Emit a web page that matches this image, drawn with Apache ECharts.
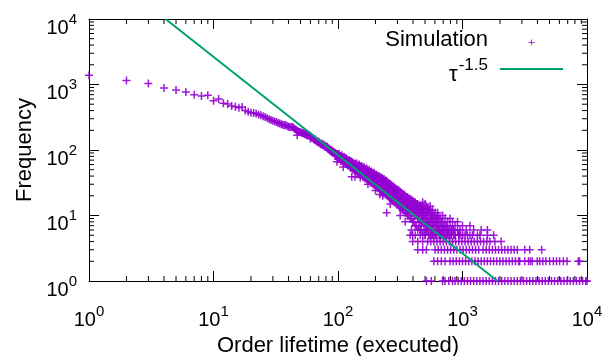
<!DOCTYPE html>
<html><head><meta charset="utf-8">
<script src="https://cdn.jsdelivr.net/npm/echarts@6/dist/echarts.min.js"></script>
<style>html,body{margin:0;padding:0;background:#fff}#c{width:614px;height:356px}</style>
</head><body><div id="c"></div>
<script>
// ---- tick values ----
const xTickExponents = [0, 1, 2, 3, 4];
const yTickExponents = [0, 1, 2, 3, 4];
const minorTickValues = [2,3,4,5,6,7,8,9,20,30,40,50,60,70,80,90,200,300,400,500,600,700,800,900,2000,3000,4000,5000,6000,7000,8000,9000];

// ---- Simulation: head of the distribution (lifetime, frequency) ----
const simHead = [
[1,1390],[2,1150],[3,1040],[4,885],[5,824],[6,768],[7,699],[8,667],[9,684],[10,566],
[11,601],[12,516],[13,504],[14,470],[15,458],[16,440],[17,452],[18,400],[19,385],[20,372],
[21,368],[22,360],[23,345],[24,338],[25,328],[26,320],[27,306],[28,296],[29,288],[30,280],
[31,272],[32,268],[33,258],[34,254],[35,248],[36,244],[37,238],[38,240],[39,232],[40,226],
[41,224],[42,222],[43,226],[44,218],[45,210],[46,204],[47,196],[48,192],[49,188],[50,186],
[51,184],[52,182],[53,178],[54,176],[55,172],[56,170],[57,171],[58,166],[59,168],[60,162],
[61,158],[62,152],[63,151],[64,146],[65,142],[66,145],[67,137],[68,134],[69,136],[70,130],
[71,131],[72,125],[73,122],[74,126],[75,118],[76,120],[77,121],[78,112],[79,115],[80,113],
[81,110],[82,112],[83,104],[84,106],[85,100],[86,103],[87,96],[88,99],[89,93],[90,97],
[91,90],[92,94],[93,92],[94,87],[95,90],[96,85],[97,88],[98,84],[99,81],[100,85],
[47,168],[60,150],[98,66]
];
// ---- Simulation: scattered body (lifetime, frequency) ----
const simBody = [
[100,72],[100,79],[100,86],[105,68],[105,75],[105,81],[110,65],[110,71],[110,77],[110,55],
[115,61],[115,67],[115,74],[120,58],[120,63],[120,70],[126,53],[126,58],[126,62],[126,68],
[129,39],[132,50],[132,55],[132,59],[132,64],[137,39],[138,48],[138,52],[138,57],[138,61],
[145,45],[145,49],[145,54],[145,58],[151,42],[151,46],[151,51],[151,56],[151,38],
[158,39],[158,43],[158,48],[158,53],[166,37],[166,41],[166,46],[166,51],
[174,34],[174,39],[174,43],[174,48],[174,30],[182,32],[182,37],[182,41],[182,46],
[191,30],[191,34],[191,39],[191,44],[200,28],[200,33],[200,37],[200,42],[200,24],
[209,26],[209,30],[209,35],[209,40],[217,21],[219,24],[219,29],[219,33],[219,38],
[229,23],[229,27],[229,31],[229,36],[229,20],[240,21],[240,25],[240,29],[240,34],[246,11],
[251,20],[251,24],[251,27],[251,32],[263,18],[263,22],[263,26],[263,30],[263,15],
[275,17],[275,20],[275,24],[275,28],[288,16],[288,19],[288,22],[288,26],
[302,15],[302,18],[302,21],[302,25],[316,13],[316,16],[316,19],[316,23],[316,10],
[331,12],[331,15],[331,18],[331,21],[347,11],[347,14],[347,17],[347,20],[347,8],
[363,10],[363,13],[363,16],[363,19],[380,9],[380,12],[380,15],[380,18],
[398,8],[398,11],[398,14],[398,17],[398,5],[417,7],[417,10],[417,13],[417,16],
[437,6],[437,9],[437,12],[437,15],[457,6],[457,8],[457,11],[457,14],
[479,5],[479,8],[479,10],[479,13],[479,16],[501,5],[501,7],[501,9],[501,12],[501,15],
[525,6],[525,8],[525,11],[525,13],[550,5],[550,7],[550,9],[550,12],[550,14],
[575,6],[575,8],[575,10],[575,12],[603,5],[603,7],[603,9],[603,11],
[631,6],[631,8],[631,10],[631,11],[661,5],[661,7],[661,9],[692,6],[692,8],[692,10],
[724,5],[724,7],[724,9],[759,6],[759,8],[794,5],[794,7],[794,9],[832,6],[832,8],
[871,5],[871,7],[912,6],[912,8],[955,5],[955,6],[1000,5],[1000,7],
[1072,6],[1148,5],[1148,7],[1230,6],[1318,5],[1413,6],[1585,5],[1585,6],[1778,5]
];
const simBody2 = [
[102,74],[102,80],[102,87],[107,70],[107,76],[107,83],[112,66],[112,72],[112,79],
[117,62],[117,68],[117,75],[123,58],[123,64],[123,70],[129,54],[129,60],[129,66],
[135,51],[135,56],[135,62],[141,47],[141,53],[141,58],[141,63],[148,45],[148,50],[148,55],[148,60],
[155,41],[155,46],[155,52],[155,57],[162,38],[162,44],[162,49],[162,55],
[170,36],[170,41],[170,46],[170,52],[178,34],[178,39],[178,44],[178,50],
[186,32],[186,36],[186,42],[186,47],[195,30],[195,34],[195,40],[195,45],
[204,28],[204,32],[204,37],[204,42],[214,26],[214,30],[214,35],[214,40],
[224,24],[224,28],[224,33],[224,38],[234,22],[234,26],[234,31],[234,36],
[245,21],[245,25],[245,29],[245,34],[257,19],[257,23],[257,27],[257,31],
[269,18],[269,21],[269,25],[269,29],[282,16],[282,20],[282,23],[282,27],
[295,15],[295,19],[295,22],[295,25],[309,14],[309,17],[309,20],[309,24],
[324,13],[324,16],[324,19],[324,22],[339,12],[339,15],[339,18],[339,21],
[355,11],[355,14],[355,16],[355,19],[372,10],[372,13],[372,15],[372,18],
[389,9],[389,12],[389,14],[389,17],[389,6],[407,8],[407,11],[407,13],[407,16],
[427,7],[427,10],[427,12],[427,15],[447,7],[447,9],[447,11],[447,13],
[468,6],[468,8],[468,10],[468,12],[468,14],[490,6],[490,8],[490,10],[490,11],[490,13],
[513,6],[513,7],[513,9],[513,11],[513,13],[537,5],[537,7],[537,8],[537,10],[537,12],
[562,5],[562,6],[562,8],[562,9],[562,11],[589,5],[589,7],[589,8],[589,10],
[617,5],[617,6],[617,8],[617,9],[646,5],[646,6],[646,7],[646,9],
[676,5],[676,6],[676,8],[708,5],[708,6],[708,7],[741,5],[741,6],[741,7],
[776,5],[776,6],[813,5],[813,6],[851,5],[851,6],[933,5],[1047,5]
];
// ---- Simulation: lifetimes seen on the low integer-frequency rows ----
const simLevel1X = [513,562,692,724,776,832,871,923,977,1035,1096,1161,1230,1303,1380,1462,1549,1641,1738,1841,1950,2065,2188,2317,2455,2600,2754,2917,3090,3273,3467,3673,3890,4121,4365,4624,4898,5188,5495,5821,6166,6531,6918,7328,7762,8222,8710,9226,9772,10000];
const simLevel2X = [589,631,676,724,794,841,891,944,1000,1059,1122,1189,1259,1334,1413,1496,1585,1679,1778,1884,1995,2113,2239,2371,2512,2661,2818,2884,3162,3388,3508,3631,3981,4169,4416,4677,5012,5370,5689,6026,6457,6918,8511,8710];
const simLevel3X = [437,479,513,603,638,676,716,759,804,851,902,955,1012,1072,1135,1202,1274,1349,1462,1549,1641,1738,1841,1950,2065,2188,2317,2455,2600,2754,3162,3467,4325];
const simLevel4X = [398,437,479,525,556,589,624,661,700,741,785,832,881,933,989,1047,1109,1175,1245,1318,1396,1479,1567,1660,1820,2042];
const simLevel5X = [380,417,457,501,537,575,617,661,708,759,813,871,933,1000,1096,1202,1380];

// ---- Power law tau^-1.5 (end points) ----
const fitLine = [[4.12, 10000], [1910, 1]];

const FONT = '"Liberation Sans", Arial, sans-serif';
const PLUS = 'path://M3.25,0H4.75V3.25H8V4.75H4.75V8H3.25V4.75H0V3.25H3.25Z';
const PLUS_LEGEND = 'path://M0,0M63,14M28.5,6.6H34.5V7.4H28.5ZM31.1,4H31.9V10H31.1Z';
const LINE_LEGEND = 'path://M0,0H63V2H0Z';

const simData = simHead.concat(
  simBody, simBody2,
  simLevel1X.map(x => [x, 1]),
  simLevel2X.map(x => [x, 2]),
  simLevel3X.map(x => [x, 3]),
  simLevel4X.map(x => [x, 4]),
  simLevel5X.map(x => [x, 5])
);

const labelRich = {
  b: { fontSize: 20, fontFamily: FONT, color: '#000', lineHeight: 30, verticalAlign: 'bottom' },
  s: { fontSize: 15, fontFamily: FONT, color: '#000', verticalAlign: 'top', padding: [4, 0, 0, 0] }
};
function expLabel(exps) {
  return function (v) {
    const e = Math.round(Math.log10(v));
    return exps.indexOf(e) >= 0 ? '{b|10}{s|' + e + '}' : '';
  };
}
const tickStyle = { show: true, inside: true, length: 10, lineStyle: { color: '#000', width: 1 } };
const lineStyleAxis = { show: true, onZero: false, lineStyle: { color: '#000', width: 1 } };

const chart = echarts.init(document.getElementById('c'));
chart.setOption({
  animation: false,
  backgroundColor: '#fff',
  grid: { left: 89, right: 27, top: 19, bottom: 75, containLabel: false, outerBoundsMode: 'none' },
  xAxis: [
    { type: 'log', logBase: 10, min: 1, max: 10000, position: 'bottom',
      axisLine: lineStyleAxis, axisTick: tickStyle, splitLine: { show: false },
      axisLabel: { formatter: expLabel(xTickExponents), margin: 19, rich: labelRich },
      name: 'Order lifetime (executed)', nameLocation: 'middle', nameGap: 52,
      nameTextStyle: { fontSize: 22, fontFamily: FONT, color: '#000' } },
    { type: 'log', logBase: 10, min: 1, max: 10000, position: 'top',
      axisLine: lineStyleAxis, axisTick: tickStyle, splitLine: { show: false },
      axisLabel: { show: false } }
  ],
  yAxis: [
    { type: 'log', logBase: 10, min: 1, max: 10000, position: 'left',
      axisLine: lineStyleAxis, axisTick: tickStyle, splitLine: { show: false },
      axisLabel: { formatter: expLabel(yTickExponents), margin: 12, padding: [8, 0, 0, 0], rich: labelRich },
      name: 'Frequency', nameLocation: 'middle', nameGap: 52,
      nameTextStyle: { fontSize: 22, fontFamily: FONT, color: '#000' } },
    { type: 'log', logBase: 10, min: 1, max: 10000, position: 'right',
      axisLine: lineStyleAxis, axisTick: tickStyle, splitLine: { show: false },
      axisLabel: { show: false } }
  ],
  legend: [
    { data: [{ name: 'Simulation', icon: PLUS_LEGEND }], orient: 'vertical', align: 'right',
      right: 51, top: 29, padding: 0, itemWidth: 63, itemHeight: 14,
      formatter: () => '{n|Simulation}',
      textStyle: { rich: { n: { fontSize: 22, fontFamily: FONT, color: '#000', padding: [0, 7, 5, 0] } } } },
    { data: [{ name: 'T^-1.5', icon: LINE_LEGEND }], orient: 'vertical', align: 'right',
      right: 51, top: 57, padding: 0, itemWidth: 63, itemHeight: 14,
      formatter: () => '{t|τ}{s|-1.5}',
      textStyle: { rich: {
        t: { fontSize: 22, fontFamily: FONT, color: '#000', lineHeight: 34, verticalAlign: 'bottom' },
        s: { fontSize: 17, fontFamily: FONT, color: '#000', verticalAlign: 'top', padding: [5, 7, 0, 1] } } } }
  ],
  series: [
    { type: 'custom', name: 'minorTicks', silent: true, clip: false, z: 1,
      data: minorTickValues.map(v => [v, v]),
      renderItem: function (params, api) {
        const v = api.value(0);
        const b = api.coord([v, 1]), t = api.coord([v, 10000]);
        const l = api.coord([1, v]), r = api.coord([10000, v]);
        const st = { stroke: '#000', lineWidth: 1 };
        return { type: 'group', children: [
          { type: 'line', shape: { x1: b[0], y1: b[1], x2: b[0], y2: b[1] - 5 }, style: st },
          { type: 'line', shape: { x1: t[0], y1: t[1], x2: t[0], y2: t[1] + 5 }, style: st },
          { type: 'line', shape: { x1: l[0], y1: l[1], x2: l[0] + 5, y2: l[1] }, style: st },
          { type: 'line', shape: { x1: r[0], y1: r[1], x2: r[0] - 5, y2: r[1] }, style: st }
        ] };
      } },
    { type: 'scatter', name: 'Simulation', data: simData, symbol: PLUS, symbolSize: 8, clip: false,
      itemStyle: { color: '#9400d3', opacity: 0.9 }, z: 3 },
    { type: 'line', name: 'T^-1.5', data: fitLine, symbol: 'none', z: 4,
      lineStyle: { color: '#009e73', width: 2 }, itemStyle: { color: '#009e73' } }
  ]
});
</script></body></html>
